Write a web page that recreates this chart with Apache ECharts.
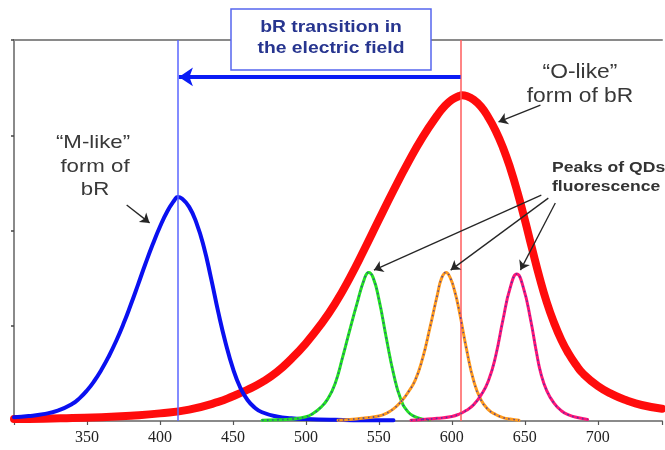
<!DOCTYPE html>
<html>
<head>
<meta charset="utf-8">
<script src="https://cdn.jsdelivr.net/npm/echarts@6/dist/echarts.min.js"></script>
<style>html,body{margin:0;padding:0;background:#fff;}#chart{width:665px;height:450px;}</style>
</head>
<body>
<div id="chart"></div>
<script>
// ---- data: [wavelength (nm), relative intensity] ----
const xTicksShown = [350, 400, 450, 500, 550, 600, 650, 700];

const oLikeBR = [[300,0.005],[320,0.006],[340,0.008],[360,0.010],[380,0.014],[400,0.020],[420,0.030],[440,0.050],[450,0.065],[460,0.082],[470,0.102],[480,0.128],[490,0.163],[500,0.204],[510,0.252],[520,0.308],[530,0.375],[540,0.450],[550,0.528],[560,0.605],[570,0.678],[580,0.745],[590,0.802],[595,0.826],[600,0.843],[605,0.853],[607,0.855],[610,0.853],[615,0.843],[620,0.825],[625,0.797],[630,0.762],[635,0.718],[640,0.664],[645,0.600],[650,0.528],[655,0.452],[660,0.378],[665,0.312],[670,0.258],[675,0.213],[680,0.177],[685,0.148],[690,0.124],[700,0.092],[710,0.070],[720,0.054],[730,0.042],[744,0.032]];

const mLikeBR = [[300,0.010],[310,0.013],[320,0.018],[330,0.027],[340,0.045],[345,0.060],[350,0.080],[355,0.105],[360,0.135],[365,0.170],[370,0.210],[375,0.255],[380,0.305],[385,0.358],[390,0.412],[395,0.463],[400,0.510],[405,0.550],[410,0.580],[412,0.588],[415,0.584],[420,0.562],[425,0.520],[430,0.458],[435,0.375],[440,0.285],[445,0.205],[450,0.138],[455,0.088],[460,0.055],[465,0.035],[470,0.023],[480,0.012],[490,0.007],[500,0.005],[520,0.003],[540,0.002],[560,0.002]];

const qdGreen = [[470,0.002],[480,0.003],[490,0.005],[500,0.011],[505,0.020],[510,0.035],[515,0.058],[520,0.098],[525,0.165],[530,0.238],[535,0.308],[540,0.372],[543,0.390],[546,0.377],[550,0.320],[555,0.220],[560,0.125],[565,0.057],[570,0.024],[575,0.011],[580,0.005],[585,0.003]];

const qdOrange = [[522,0.002],[530,0.004],[540,0.008],[550,0.013],[555,0.020],[560,0.032],[565,0.050],[570,0.075],[575,0.108],[580,0.165],[585,0.245],[590,0.330],[593,0.375],[596,0.390],[599,0.375],[602,0.340],[605,0.290],[610,0.190],[615,0.105],[620,0.055],[625,0.030],[630,0.017],[635,0.009],[640,0.005],[646,0.002]];

const qdPink = [[572,0.002],[580,0.004],[590,0.007],[600,0.012],[605,0.018],[610,0.028],[615,0.043],[620,0.068],[625,0.105],[630,0.170],[635,0.265],[640,0.350],[644.5,0.386],[649,0.350],[654,0.265],[658,0.180],[661,0.125],[665,0.080],[670,0.047],[675,0.027],[680,0.016],[686,0.009],[693,0.004]];

const guideLines = [412, 606];            // M-like and O-like peak markers (nm)
const transitionArrow = [[606, 0.903], [413, 0.903]];
const pointerArrows = [
  [[377.2, 0.567], [392.9, 0.520]],
  [[660.7, 0.829], [632.0, 0.785]],
  [[661.3, 0.593], [546.6, 0.396]],
  [[666.1, 0.585], [599.2, 0.396]],
  [[670.9, 0.572], [647.0, 0.396]]
];

// ---- chart ----
const chart = echarts.init(document.getElementById('chart'), null, {renderer: 'canvas'});
const AX = '#8a8a8a';

function curve(name, data, color, width, z) {
  return {name, type: 'line', data, smooth: 0.5, showSymbol: false, symbol: 'none',
    lineStyle: {color, width, cap: 'round', join: 'round'}, z, silent: true};
}
function dots(data, z) {
  return {type: 'line', data, smooth: 0.5, showSymbol: false, symbol: 'none',
    lineStyle: {color: '#3838a8', width: 1.6, type: [1.5, 3.5], opacity: 0.85}, z, silent: true};
}

const sansFont = '"Liberation Sans", Arial, sans-serif';
function txt(t, x, y, size, bold, color, align) {
  return {type: 'text', x, y, scaleX: 1.17, z: 100,
    style: {text: t, x: 0, y: 0, textAlign: align || 'center', textVerticalAlign: 'middle',
      align: align || 'center', verticalAlign: 'middle',
      font: (bold ? 'bold ' : '') + size + 'px ' + sansFont, fill: color}};
}

const option = {
  animation: false,
  backgroundColor: '#fff',
  grid: {left: 14, right: 1, top: 40, bottom: 29},
  xAxis: [{
    type: 'value', min: 300, max: 744, interval: 50, position: 'bottom',
    axisLine: {show: true, lineStyle: {color: AX, width: 2}},
    axisTick: {show: true, length: 4, lineStyle: {color: '#555', width: 1.2}},
    axisLabel: {margin: 9, fontFamily: '"Liberation Serif", "Times New Roman", serif', fontSize: 16, color: '#222',
      formatter: v => xTicksShown.indexOf(v) >= 0 ? String(v) : ''},
    splitLine: {show: false}
  }, {
    type: 'value', min: 300, max: 744, position: 'top',
    axisLine: {show: true, lineStyle: {color: AX, width: 2}},
    axisTick: {show: false}, axisLabel: {show: false}, splitLine: {show: false}
  }],
  yAxis: {
    type: 'value', min: 0, max: 1, interval: 0.25,
    axisLine: {show: true, lineStyle: {color: AX, width: 2}},
    axisTick: {show: true, length: 3, lineStyle: {color: '#444', width: 1.5}},
    axisLabel: {show: false}, splitLine: {show: false}
  },
  series: [
    curve('O-like form of bR', oLikeBR, '#ff0c0c', 8, 2),
    curve('M-like form of bR', mLikeBR, '#0a10f0', 4, 3),
    curve('QD 540', qdGreen, '#22e222', 3, 4), dots(qdGreen, 5),
    curve('QD 595', qdOrange, '#ff9a1c', 3, 4), dots(qdOrange, 5),
    curve('QD 645', qdPink, '#ff1478', 3, 4), dots(qdPink, 5),
    {
      type: 'line', data: [], z: 8, silent: true,
      markLine: {silent: true, symbol: ['none', 'none'], label: {show: false}, animation: false,
        data: [
          {xAxis: guideLines[0], lineStyle: {color: '#5a66ff', width: 1.5, type: 'solid'}},
          {xAxis: guideLines[1], lineStyle: {color: '#ff5c5c', width: 1.5, type: 'solid'}}
        ]}
    },
    {
      type: 'line', data: [], z: 9, silent: true,
      markLine: {silent: true, label: {show: false}, animation: false, symbol: ['none', 'arrow'],
        data: [
          [{coord: transitionArrow[0], symbol: 'none'},
           {coord: transitionArrow[1], symbol: 'arrow', symbolSize: 14,
            lineStyle: {color: '#0a1cf5', width: 4, type: 'solid'}}]
        ].concat(pointerArrows.map(a => [
          {coord: a[0], symbol: 'none'},
          {coord: a[1], symbol: 'arrow', symbolSize: 9, lineStyle: {color: '#262626', width: 1.3, type: 'solid'}}
        ])),
        lineStyle: {color: '#262626', width: 1.3, type: 'solid'}}
    }
  ],
  graphic: [
    {type: 'rect', z: 90, shape: {x: 231, y: 9, width: 200, height: 61},
      style: {fill: '#fff', stroke: '#5566ee', lineWidth: 1.5}},
    txt('bR transition in', 331, 27, 16.5, true, '#27358f'),
    txt('the electric field', 331, 48, 16.5, true, '#27358f'),
    txt('“O-like”', 580, 73, 19.5, false, '#383838'),
    txt('form of bR', 580, 97, 19.5, false, '#383838'),
    txt('“M-like”', 93, 143, 19, false, '#383838'),
    txt('form of', 95, 167, 19, false, '#383838'),
    txt('bR', 95, 190, 19, false, '#383838'),
    txt('Peaks of QDs', 552, 168, 15, true, '#333', 'left'),
    txt('fluorescence', 552, 187, 15, true, '#333', 'left')
  ]
};
chart.setOption(option);
</script>
</body>
</html>
